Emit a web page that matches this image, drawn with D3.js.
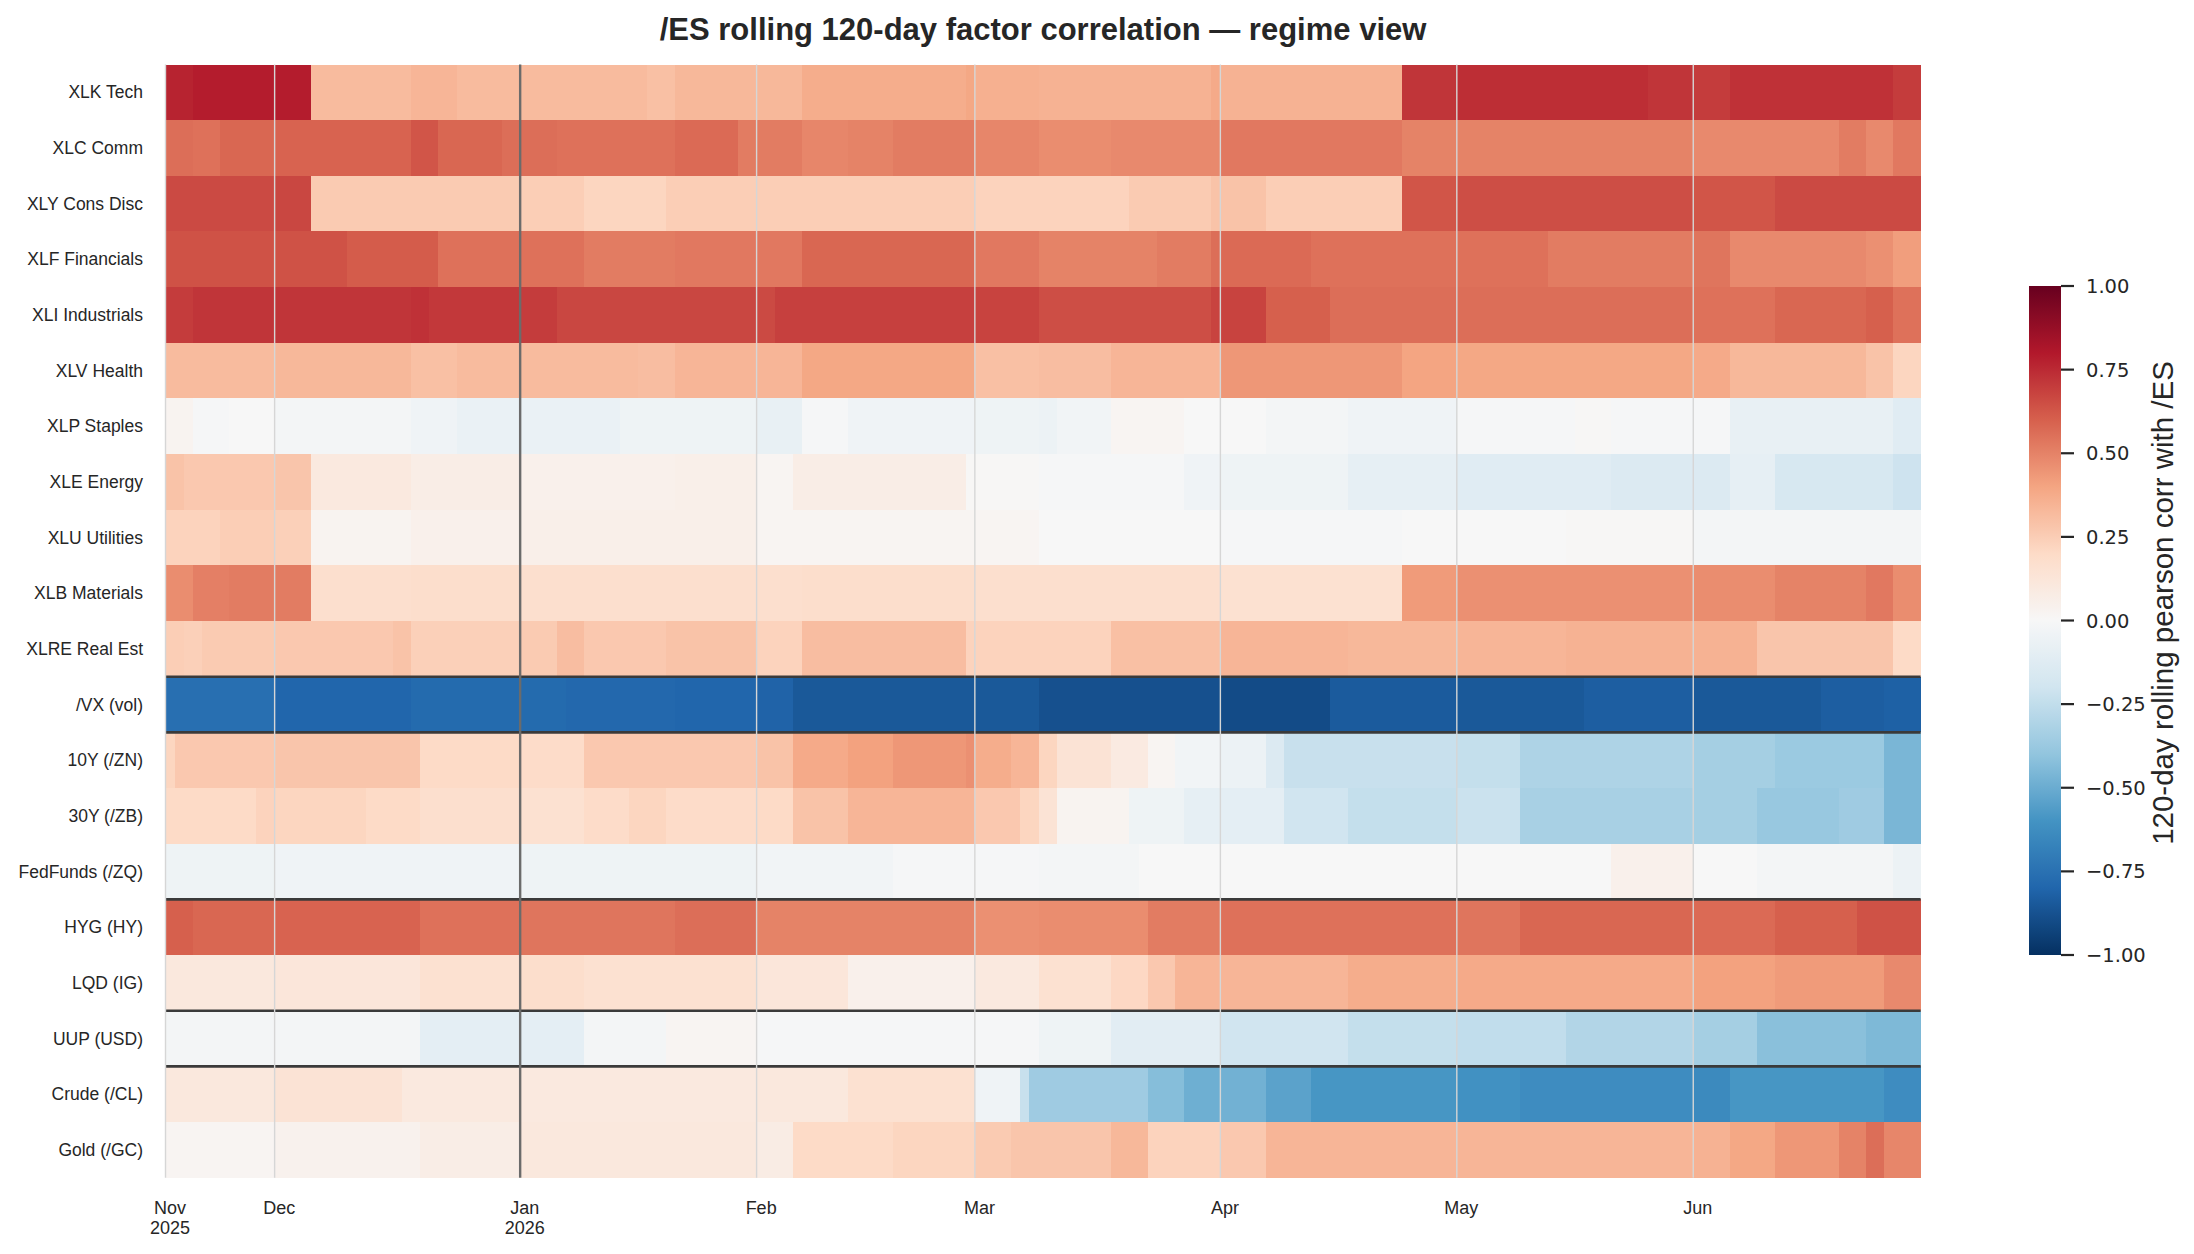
<!DOCTYPE html>
<html>
<head>
<meta charset="utf-8">
<script src="https://cdn.jsdelivr.net/npm/d3@7"></script>
<style>
  body { margin: 0; background: #fff; }
  text { fill: #262626; }
</style>
</head>
<body>
<div id="chart"></div>
<script>
// factors (rows), top to bottom
const factors = ['XLK Tech', 'XLC Comm', 'XLY Cons Disc', 'XLF Financials', 'XLI Industrials',
    'XLV Health', 'XLP Staples', 'XLE Energy', 'XLU Utilities', 'XLB Materials', 'XLRE Real Est',
    '/VX (vol)', '10Y (/ZN)', '30Y (/ZB)', 'FedFunds (/ZQ)', 'HYG (HY)', 'LQD (IG)',
    'UUP (USD)', 'Crude (/CL)', 'Gold (/GC)'];

// rows that start a new factor group (separator drawn above)
const groupStarts = ['/VX (vol)', '10Y (/ZN)', 'HYG (HY)', 'UUP (USD)', 'Crude (/CL)'];

// session days: Sun-Fri futures sessions, 2025-11-17 .. 2026-06-29
const firstDay = '2025-11-17';
const lastDay = '2026-06-29';

// month tick labels
const monthLabels = ['Nov\n2025', 'Dec', 'Jan\n2026', 'Feb', 'Mar', 'Apr', 'May', 'Jun'];

// correlation runs: [session index where level starts, corr]
const xlkTech = [[0, 0.77], [3, 0.79], [16, 0.32], [27, 0.34], [32, 0.32], [53, 0.30], [56, 0.33], [70, 0.37],
    [88, 0.39], [89, 0.36], [96, 0.35], [115, 0.38], [116, 0.35], [136, 0.72], [142, 0.74], [163, 0.72],
    [168, 0.70], [172, 0.73], [190, 0.70]];
const xlcComm = [[0, 0.56], [3, 0.55], [6, 0.58], [12, 0.59], [27, 0.63], [30, 0.58], [37, 0.56], [43, 0.55],
    [56, 0.57], [63, 0.52], [70, 0.49], [75, 0.50], [80, 0.52], [89, 0.49], [96, 0.47], [104, 0.48],
    [116, 0.53], [136, 0.50], [168, 0.48], [184, 0.52], [187, 0.48], [190, 0.53]];
const xlyConsDisc = [[0, 0.66], [12, 0.67], [16, 0.26], [39, 0.25], [46, 0.22], [55, 0.25], [89, 0.23],
    [106, 0.26], [115, 0.29], [121, 0.25], [136, 0.63], [142, 0.65], [168, 0.63], [177, 0.66]];
const xlfFinancials = [[0, 0.64], [20, 0.61], [30, 0.55], [46, 0.52], [56, 0.53], [70, 0.58], [89, 0.53],
    [96, 0.50], [109, 0.52], [115, 0.56], [116, 0.57], [126, 0.55], [152, 0.52], [168, 0.54], [172, 0.48],
    [187, 0.46], [190, 0.42]];
const xliIndustrials = [[0, 0.70], [3, 0.72], [27, 0.73], [29, 0.71], [39, 0.70], [43, 0.67], [65, 0.66],
    [67, 0.69], [89, 0.68], [96, 0.65], [115, 0.68], [121, 0.60], [128, 0.56], [168, 0.55], [177, 0.58],
    [187, 0.60], [190, 0.55]];
const xlvHealth = [[0, 0.32], [12, 0.33], [27, 0.30], [32, 0.32], [52, 0.31], [56, 0.34], [70, 0.39],
    [89, 0.30], [96, 0.31], [104, 0.34], [116, 0.44], [136, 0.40], [142, 0.39], [168, 0.38], [172, 0.33],
    [187, 0.29], [190, 0.22]];
const xlpStaples = [[0, 0.03], [3, -0.01], [7, 0.00], [12, -0.02], [27, -0.04], [32, -0.07], [50, -0.05],
    [65, -0.08], [70, -0.01], [75, -0.04], [89, -0.05], [96, -0.06], [98, -0.03], [104, 0.02], [112, 0.00],
    [121, -0.02], [130, -0.04], [142, -0.01], [155, 0.01], [159, -0.01], [172, -0.08], [190, -0.12]];
const xleEnergy = [[0, 0.29], [2, 0.27], [12, 0.28], [16, 0.10], [27, 0.07], [39, 0.05], [56, 0.06],
    [65, 0.02], [69, 0.07], [88, 0.01], [96, -0.01], [112, -0.04], [116, -0.05], [130, -0.09], [142, -0.12],
    [159, -0.14], [172, -0.09], [177, -0.17], [190, -0.21]];
const xluUtilities = [[0, 0.23], [6, 0.25], [12, 0.24], [16, 0.03], [27, 0.05], [39, 0.06], [65, 0.02],
    [96, 0.00], [116, -0.01], [136, 0.00], [154, 0.01], [168, -0.02]];
const xlbMaterials = [[0, 0.47], [3, 0.51], [7, 0.52], [16, 0.17], [27, 0.18], [39, 0.17], [70, 0.18],
    [89, 0.17], [116, 0.16], [136, 0.43], [142, 0.46], [168, 0.47], [177, 0.50], [187, 0.53], [190, 0.47]];
const xlreRealEst = [[0, 0.25], [2, 0.24], [4, 0.26], [12, 0.27], [25, 0.29], [27, 0.24], [39, 0.26],
    [43, 0.31], [46, 0.27], [55, 0.29], [65, 0.23], [70, 0.31], [88, 0.23], [104, 0.30], [116, 0.34],
    [130, 0.33], [142, 0.34], [154, 0.35], [175, 0.28], [190, 0.20]];
const vxVol = [[0, -0.76], [12, -0.80], [27, -0.78], [44, -0.79], [56, -0.80], [65, -0.81], [69, -0.85],
    [96, -0.88], [116, -0.90], [128, -0.84], [142, -0.85], [156, -0.83], [168, -0.85], [182, -0.83],
    [189, -0.82]];
const zn10y = [[0, 0.22], [1, 0.27], [12, 0.28], [28, 0.20], [39, 0.19], [46, 0.27], [65, 0.29], [69, 0.38],
    [75, 0.41], [80, 0.44], [88, 0.46], [89, 0.37], [93, 0.34], [96, 0.22], [98, 0.14], [104, 0.09],
    [108, 0.02], [111, -0.03], [116, -0.06], [121, -0.14], [123, -0.23], [142, -0.24], [149, -0.31],
    [168, -0.34], [177, -0.37], [189, -0.46]];
const zb30y = [[0, 0.20], [10, 0.23], [12, 0.22], [22, 0.20], [28, 0.17], [39, 0.16], [46, 0.19], [51, 0.22],
    [55, 0.19], [65, 0.20], [69, 0.29], [75, 0.34], [89, 0.27], [94, 0.22], [96, 0.14], [98, 0.03],
    [106, -0.05], [112, -0.09], [116, -0.10], [123, -0.20], [130, -0.24], [142, -0.22], [149, -0.33],
    [168, -0.34], [175, -0.38], [184, -0.36], [189, -0.46]];
const zqFedFunds = [[0, -0.05], [12, -0.04], [39, -0.05], [65, -0.03], [80, -0.01], [96, -0.02], [107, 0.00],
    [159, 0.05], [168, 0.00], [175, -0.02], [190, -0.06]];
const hygHY = [[0, 0.60], [3, 0.58], [12, 0.59], [28, 0.55], [39, 0.54], [56, 0.56], [65, 0.50], [89, 0.46],
    [96, 0.47], [108, 0.52], [116, 0.55], [142, 0.54], [149, 0.58], [168, 0.57], [177, 0.60], [186, 0.64]];
const lqdIG = [[0, 0.11], [12, 0.12], [28, 0.16], [39, 0.18], [46, 0.16], [65, 0.12], [75, 0.05], [89, 0.10],
    [96, 0.16], [104, 0.21], [108, 0.27], [111, 0.34], [130, 0.37], [142, 0.38], [168, 0.41], [177, 0.43],
    [189, 0.48]];
const uupUSD = [[0, -0.02], [28, -0.10], [46, -0.02], [55, 0.02], [65, -0.01], [96, -0.05], [104, -0.11],
    [116, -0.20], [130, -0.24], [142, -0.25], [154, -0.30], [168, -0.34], [175, -0.42], [187, -0.45]];
const clCrude = [[0, 0.11], [12, 0.14], [26, 0.10], [65, 0.11], [75, 0.16], [89, -0.04], [94, -0.23],
    [95, -0.36], [108, -0.43], [112, -0.49], [116, -0.48], [121, -0.54], [126, -0.59], [142, -0.61],
    [149, -0.63], [168, -0.64], [172, -0.59], [189, -0.63]];
const gcGold = [[0, 0.02], [12, 0.04], [28, 0.07], [39, 0.11], [65, 0.08], [69, 0.20], [80, 0.22], [89, 0.26],
    [93, 0.28], [104, 0.33], [108, 0.23], [116, 0.27], [121, 0.34], [168, 0.35], [172, 0.39], [177, 0.44],
    [184, 0.50], [187, 0.56], [189, 0.49]];

const rowRuns = [xlkTech, xlcComm, xlyConsDisc, xlfFinancials, xliIndustrials, xlvHealth, xlpStaples,
    xleEnergy, xluUtilities, xlbMaterials, xlreRealEst, vxVol, zn10y, zb30y, zqFedFunds, hygHY, lqdIG,
    uupUSD, clCrude, gcGold];

const cbTicks = [1, 0.75, 0.5, 0.25, 0, -0.25, -0.5, -0.75, -1];

// ---------------------------------------------------------------

const width = 2194;
const height = 1254;
const plot = { left: 165.5, right: 1920.6, top: 64.5, bottom: 1177.7 };

const parse = d3.utcParse('%Y-%m-%d');
const days = d3.utcDay.range(parse(firstDay), d3.utcDay.offset(parse(lastDay), 1))
    .filter(d => d.getUTCDay() !== 6);

const cells = [];
factors.forEach((f, r) => {
    const runs = rowRuns[r];
    days.forEach((d, i) => {
        let v = runs[0][1];
        for (const [start, val] of runs) if (start <= i) v = val;
        cells.push({ factor: f, day: d, value: v });
    });
});

// RdBu_r, piecewise linear like matplotlib
const rdbu = ['#67001f', '#b2182b', '#d6604d', '#f4a582', '#fddbc7', '#f7f7f7',
    '#d1e5f0', '#92c5de', '#4393c3', '#2166ac', '#053061'];
const color = d3.scaleLinear()
    .domain(d3.range(11).map(k => 1 - k * 0.2))
    .range(rdbu)
    .interpolate(d3.interpolateRgb)
    .clamp(true);

const x = d3.scaleBand()
    .domain(days)
    .range([plot.left, plot.right]);

const y = d3.scaleBand()
    .domain(factors)
    .range([plot.top, plot.bottom]);

const svg = d3.select('#chart')
    .append('svg')
    .attr('width', width)
    .attr('height', height);

// heatmap cells
svg.append('g')
    .attr('shape-rendering', 'crispEdges')
    .selectAll('rect')
    .data(cells)
    .join('rect')
    .attr('x', d => x(d.day))
    .attr('y', d => y(d.factor))
    .attr('width', x.bandwidth() + 0.5)
    .attr('height', y.bandwidth() + 0.5)
    .attr('fill', d => color(d.value));

// group separators
svg.append('g')
    .selectAll('line')
    .data(groupStarts)
    .join('line')
    .attr('x1', plot.left)
    .attr('x2', plot.right)
    .attr('y1', d => y(d))
    .attr('y2', d => y(d))
    .attr('stroke', '#3a3a3a')
    .attr('stroke-width', 2.6);

// month ticks: first session of each month
const monthStarts = days.filter((d, i) => i === 0 || d.getUTCMonth() !== days[i - 1].getUTCMonth());
const ticks = monthStarts.map((d, i) => ({ day: d, label: monthLabels[i], newYear: d.getUTCMonth() === 0 }));

svg.append('g')
    .selectAll('line')
    .data(ticks)
    .join('line')
    .attr('x1', d => x(d.day))
    .attr('x2', d => x(d.day))
    .attr('y1', plot.top)
    .attr('y2', plot.bottom)
    .attr('stroke', d => d.newYear ? '#6b6b6b' : '#d6d6d6')
    .attr('stroke-width', d => d.newYear ? 2.4 : 1.4);

// x labels
const xl = svg.append('g')
    .selectAll('text')
    .data(ticks)
    .join('text')
    .attr('x', d => x(d.day) + x.bandwidth() / 2)
    .attr('y', 1214)
    .attr('text-anchor', 'middle')
    .style('font-family', '"Liberation Sans", Arial, sans-serif')
    .style('font-size', '18px');
xl.selectAll('tspan')
    .data(d => d.label.split('\n'))
    .join('tspan')
    .attr('x', function() { return d3.select(this.parentNode).attr('x'); })
    .attr('dy', (d, i) => i === 0 ? 0 : 20)
    .text(d => d);

// y labels
svg.append('g')
    .selectAll('text')
    .data(factors)
    .join('text')
    .attr('x', 143)
    .attr('y', d => y(d) + y.bandwidth() / 2)
    .attr('dy', '0.35em')
    .attr('text-anchor', 'end')
    .style('font-family', '"Liberation Sans", Arial, sans-serif')
    .style('font-size', '17.5px')
    .text(d => d);

// title
svg.append('text')
    .attr('x', (plot.left + plot.right) / 2)
    .attr('y', 40)
    .attr('text-anchor', 'middle')
    .style('font-family', '"Liberation Sans", Arial, sans-serif')
    .style('font-size', '31px')
    .style('font-weight', 'bold')
    .text('/ES rolling 120-day factor correlation \u2014 regime view');

// colorbar
const cb = { x: 2029, w: 32, top: 286, bottom: 955 };
const cbScale = d3.scaleLinear().domain([-1, 1]).range([cb.bottom, cb.top]);

const grad = svg.append('defs')
    .append('linearGradient')
    .attr('id', 'cbgrad')
    .attr('x1', 0).attr('x2', 0)
    .attr('y1', 1).attr('y2', 0);
grad.selectAll('stop')
    .data(d3.range(0, 1.0001, 0.02))
    .join('stop')
    .attr('offset', d => d)
    .attr('stop-color', d => color(-1 + 2 * d));

svg.append('rect')
    .attr('x', cb.x)
    .attr('y', cb.top)
    .attr('width', cb.w)
    .attr('height', cb.bottom - cb.top)
    .attr('fill', 'url(#cbgrad)');

const cbAxis = svg.append('g');
cbAxis.selectAll('line')
    .data(cbTicks)
    .join('line')
    .attr('x1', cb.x + cb.w)
    .attr('x2', cb.x + cb.w + 13)
    .attr('y1', d => cbScale(d))
    .attr('y2', d => cbScale(d))
    .attr('stroke', '#262626')
    .attr('stroke-width', 2.2);
cbAxis.selectAll('text')
    .data(cbTicks)
    .join('text')
    .attr('x', cb.x + cb.w + 25)
    .attr('y', d => cbScale(d))
    .attr('dy', '0.36em')
    .style('font-family', '"DejaVu Sans", sans-serif')
    .style('font-size', '19.5px')
    .text(d => d3.format('.2f')(d).replace('-', '\u2212'));

svg.append('text')
    .attr('transform', 'translate(2173, 603) rotate(-90)')
    .attr('text-anchor', 'middle')
    .style('font-family', '"Liberation Sans", Arial, sans-serif')
    .style('font-size', '29.5px')
    .text('120-day rolling pearson corr with /ES');
</script>
</body>
</html>
